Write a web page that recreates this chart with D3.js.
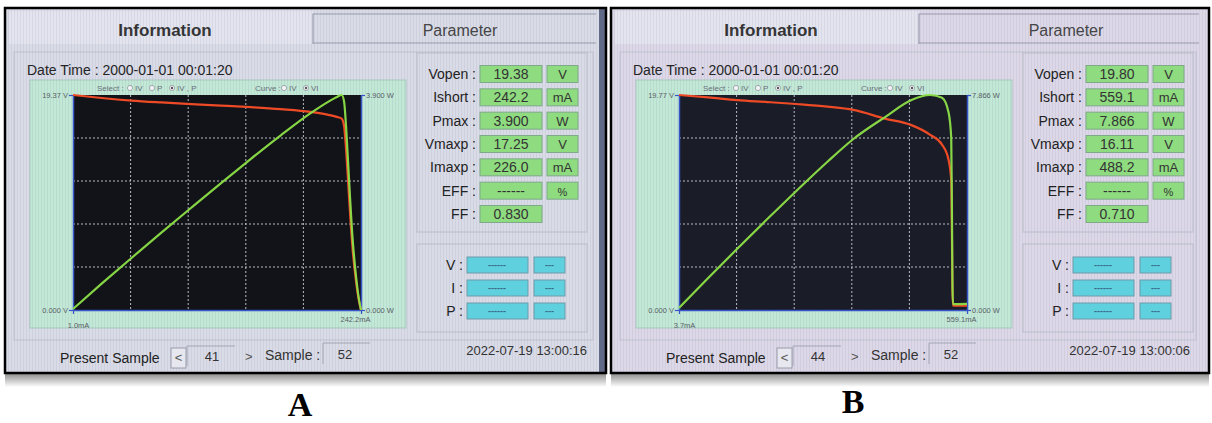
<!doctype html>
<html lang="en">
<head>
<meta charset="utf-8">
<title>I-V tester screens</title>
<style>
  body { margin: 0; background: #fff; }
  svg { display: block; font-family: "Liberation Sans", Arial, sans-serif; }
</style>
</head>
<body>
<div id="chart"></div>
<script src="https://d3js.org/d3.v7.min.js"></script>
<script>
// ---- screen A : readings ----
var currentA = [1.0, 25, 50, 75, 100, 125, 150, 175, 200, 215, 222, 226, 228, 230, 232, 235, 238, 240.5, 242.2];      // mA
var voltageA = [19.37, 19.10, 18.87, 18.70, 18.55, 18.42, 18.28, 18.10, 17.85, 17.58, 17.40, 17.25, 16.60, 14.00, 10.50, 5.70, 2.60, 0.80, 0.00];
var powerA   = [0.019, 0.478, 0.944, 1.403, 1.855, 2.303, 2.742, 3.168, 3.570, 3.780, 3.863, 3.900, 3.785, 3.220, 2.436, 1.340, 0.619, 0.192, 0.000];
var axisA    = [19.37, 3.900, 1.0, 242.2];   // V top, W top, I min, I max
var readoutA = ["19.38", "242.2", "3.900", "17.25", "226.0", "------", "0.830"];

// ---- screen B ----
var currentB = [3.7, 60, 116, 175, 230, 290, 340, 401, 452, 488.2, 511, 523.6, 528.7, 530, 531, 532, 545, 559.1];
var voltageB = [19.77, 19.55, 19.30, 19.12, 18.94, 18.70, 18.40, 17.60, 17.00, 16.11, 15.20, 13.80, 11.90, 7.00, 2.00, 0.40, 0.40, 0.40];
var powerB   = [0.073, 1.173, 2.239, 3.346, 4.356, 5.423, 6.256, 7.058, 7.684, 7.866, 7.767, 7.226, 6.292, 3.710, 1.062, 0.213, 0.218, 0.224];
var axisB    = [19.77, 7.866, 3.7, 559.1];
var readoutB = ["19.80", "559.1", "7.866", "16.11", "488.2", "------", "0.710"];

var readoutLabels = ["Vopen :", "Ishort :", "Pmax :", "Vmaxp :", "Imaxp :", "EFF :", "FF :"];
var readoutUnits  = ["V", "mA", "W", "V", "mA", "%", ""];
var probeLabels   = ["V :", "I :", "P :"];

var svg = d3.select("#chart").append("svg")
  .attr("width", 1212)
  .attr("height", 423);

var defs = svg.append("defs");
var stripes = defs.append("pattern")
  .attr("id", "stripes").attr("patternUnits", "userSpaceOnUse")
  .attr("width", 3).attr("height", 6);
stripes.append("rect").attr("width", 1).attr("height", 6).attr("fill", "rgba(110,110,150,0.10)");
var shade = defs.append("linearGradient").attr("id", "shade").attr("x1", 0).attr("x2", 0).attr("y1", 0).attr("y2", 1);
shade.append("stop").attr("offset", 0).attr("stop-color", "#8a8a8a");
shade.append("stop").attr("offset", 1).attr("stop-color", "#fff");

var screens = [
  {x: 5, w: 601, letter: "A", lx: 300, ly: 416, current: currentA, voltage: voltageA, power: powerA, axis: axisA,
   readout: readoutA, present: "41", stamp: "2022-07-19 13:00:16", bg: "#d9dbe6", plotBg: "#111318", edge: "#5f6a86"},
  {x: 611, w: 598, letter: "B", lx: 853, ly: 413, current: currentB, voltage: voltageB, power: powerB, axis: axisB,
   readout: readoutB, present: "44", stamp: "2022-07-19 13:00:06", bg: "#dcd8e7", plotBg: "#1a1d27", edge: null}
];

screens.forEach(drawScreen);

function drawScreen(s) {
  var g = svg.append("g").attr("transform", "translate(" + s.x + ",0)");

  // drop shadow under the photo
  g.append("rect").attr("x", 0).attr("y", 373).attr("width", s.w).attr("height", 14).attr("fill", "url(#shade)");

  g.append("rect").attr("x", 0).attr("y", 8).attr("width", s.w).attr("height", 365).attr("fill", s.bg);
  if (s.edge) g.append("rect").attr("x", s.w - 7).attr("y", 8).attr("width", 7).attr("height", 365).attr("fill", s.edge);

  // tabs
  g.append("rect").attr("x", 4).attr("y", 11).attr("width", 304).attr("height", 33).attr("fill", "#e3e4ee");
  g.append("path").attr("d", "M308,44 V14 H" + (s.w - 10) + " M308,43 H" + (s.w - 10))
    .attr("fill", "none").attr("stroke", "#9a9cae").attr("stroke-width", 1.2);
  g.append("text").attr("x", 160).attr("y", 36).attr("text-anchor", "middle")
    .attr("font-size", 17).attr("font-weight", "bold").attr("fill", "#333").text("Information");
  g.append("text").attr("x", 455).attr("y", 36).attr("text-anchor", "middle")
    .attr("font-size", 16).attr("fill", "#444").text("Parameter");

  // content frame
  g.append("rect").attr("x", 9).attr("y", 52).attr("width", s.w - 22).attr("height", 288)
    .attr("fill", "none").attr("stroke", "#c2c3cf");

  g.append("text").attr("x", 22).attr("y", 75).attr("font-size", 14).attr("fill", "#222")
    .text("Date Time : 2000-01-01 00:01:20");

  // chart area
  g.append("rect").attr("x", 25).attr("y", 80).attr("width", 376).attr("height", 248)
    .attr("fill", "#c2e8d6").attr("stroke", "#a9c9bf");
  g.append("rect").attr("x", 0).attr("y", 8).attr("width", s.w).attr("height", 365).attr("fill", "url(#stripes)");

  var px0 = 68, px1 = 356, py0 = 95, py1 = 310;
  var x = d3.scaleLinear().domain([s.axis[2], s.axis[3]]).range([px0, px1]);
  var yV = d3.scaleLinear().domain([0, s.axis[0]]).range([py1, py0]);
  var yP = d3.scaleLinear().domain([0, s.axis[1]]).range([py1, py0]);

  g.append("rect").attr("x", px0).attr("y", py0).attr("width", px1 - px0).attr("height", py1 - py0).attr("fill", s.plotBg);

  // 5 x 5 dashed grid
  var xGrid = d3.range(1, 5).map(function(k) { return s.axis[2] + k * (s.axis[3] - s.axis[2]) / 5; });
  var yGrid = d3.range(1, 5).map(function(k) { return k * s.axis[0] / 5; });
  g.append("g").selectAll("line").data(xGrid).enter().append("line")
    .attr("x1", x).attr("x2", x).attr("y1", py0).attr("y2", py1);
  g.append("g").selectAll("line").data(yGrid).enter().append("line")
    .attr("x1", px0).attr("x2", px1).attr("y1", yV).attr("y2", yV);
  g.selectAll("g line").attr("stroke", "#b9bcc4").attr("stroke-dasharray", "2,2").attr("stroke-width", 1);

  // axes
  var axisColor = "#3755c8";
  var left = g.append("g").attr("transform", "translate(" + px0 + ",0)")
    .call(d3.axisLeft(yV).tickValues([0, s.axis[0]]).tickSize(4).tickSizeOuter(0)
      .tickFormat(function(d) { return d === 0 ? "0.000 V" : d.toFixed(2) + " V"; }));
  var right = g.append("g").attr("transform", "translate(" + px1 + ",0)")
    .call(d3.axisRight(yP).tickValues([0, s.axis[1]]).tickSize(4).tickSizeOuter(0)
      .tickFormat(function(d) { return d === 0 ? "0.000 W" : d.toFixed(3) + " W"; }));
  var bottom = g.append("g").attr("transform", "translate(0," + py1 + ")")
    .call(d3.axisBottom(x).tickValues([s.axis[2], s.axis[3]]).tickSize(4).tickSizeOuter(0)
      .tickFormat(function(d) { return d.toFixed(1) + "mA"; }));
  [left, right, bottom].forEach(function(a) {
    a.select(".domain").attr("stroke", axisColor).attr("stroke-width", 1.5);
    a.selectAll(".tick line").attr("stroke", axisColor).attr("stroke-width", 1.2);
    a.selectAll("text").attr("fill", "#5a5f66").attr("font-size", 7.5).attr("font-family", "Liberation Sans, Arial");
  });
  left.selectAll("text").attr("x", -5);
  right.selectAll("text").attr("x", 5);
  bottom.selectAll(".tick text").attr("dy", function(d, i) { return i === 0 ? "1.45em" : "0.6em"; })
    .attr("dx", function(d, i) { return i === 0 ? 5 : -6; });

  // curves
  var lineV = d3.line().x(function(d) { return x(d[0]); }).y(function(d) { return yV(d[1]); }).curve(d3.curveMonotoneX);
  var lineP = d3.line().x(function(d) { return x(d[0]); }).y(function(d) { return yP(d[1]); }).curve(d3.curveMonotoneX);
  g.append("path").datum(d3.zip(s.current, s.voltage)).attr("d", lineV)
    .attr("fill", "none").attr("stroke", "#ee4a26").attr("stroke-width", 2.2);
  g.append("path").datum(d3.zip(s.current, s.power)).attr("d", lineP)
    .attr("fill", "none").attr("stroke", "#8ddf48").attr("stroke-width", 2.2).attr("stroke-opacity", 0.95);

  // select / curve radio row
  var radios = [
    {t: "Select :", x: 92, r: false, label: true},
    {t: "IV", x: 130, r: false}, {t: "P", x: 152, r: false}, {t: "IV , P", x: 172, r: true},
    {t: "Curve :", x: 250, r: false, label: true},
    {t: "IV", x: 284, r: false}, {t: "VI", x: 306, r: true}
  ];
  var rg = g.append("g").attr("font-size", 8).attr("fill", "#6a6f7a");
  radios.forEach(function(r) {
    if (r.label) {
      rg.append("text").attr("x", r.x).attr("y", 91).text(r.t);
      return;
    }
    rg.append("circle").attr("cx", r.x - 5).attr("cy", 88).attr("r", 2.6).attr("fill", "#f3f4f6").attr("stroke", "#8a8f99").attr("stroke-width", 0.7);
    if (r.r) rg.append("circle").attr("cx", r.x - 5).attr("cy", 88).attr("r", 1.2).attr("fill", "#555");
    rg.append("text").attr("x", r.x).attr("y", 91).text(r.t);
  });

  // readout box
  var ib = g.append("g");
  ib.append("rect").attr("x", 412).attr("y", 53).attr("width", 170).attr("height", 179)
    .attr("fill", "none").attr("stroke", "#babcc8");
  var rowY = d3.scaleLinear().domain([0, 6]).range([74, 214]);
  readoutLabels.forEach(function(lab, i) {
    var cy = rowY(i);
    ib.append("text").attr("x", 471).attr("y", cy + 5).attr("text-anchor", "end")
      .attr("font-size", 14).attr("fill", "#222").text(lab);
    ib.append("rect").attr("x", 475).attr("y", cy - 8.5).attr("width", 62).attr("height", 17)
      .attr("fill", "#8fdb80").attr("stroke", "#7fa98a").attr("stroke-width", 1);
    ib.append("text").attr("x", 506).attr("y", cy + 5).attr("text-anchor", "middle")
      .attr("font-size", 14).attr("fill", "#333").text(s.readout[i]);
    if (readoutUnits[i]) {
      ib.append("rect").attr("x", 542).attr("y", cy - 8.5).attr("width", 31).attr("height", 17)
        .attr("fill", "#8fdb80").attr("stroke", "#7fa98a").attr("stroke-width", 1);
      ib.append("text").attr("x", 557.5).attr("y", cy + 5).attr("text-anchor", "middle")
        .attr("font-size", i === 5 ? 11 : 13).attr("fill", "#333").text(readoutUnits[i]);
    }
  });

  // probe box
  ib.append("rect").attr("x", 412).attr("y", 244).attr("width", 170).attr("height", 88)
    .attr("fill", "none").attr("stroke", "#babcc8");
  var probeY = d3.scaleLinear().domain([0, 2]).range([265, 311]);
  probeLabels.forEach(function(lab, i) {
    var cy = probeY(i);
    ib.append("text").attr("x", 458).attr("y", cy + 5).attr("text-anchor", "end")
      .attr("font-size", 14).attr("fill", "#222").text(lab);
    ib.append("rect").attr("x", 462).attr("y", cy - 8).attr("width", 61).attr("height", 16)
      .attr("fill", "#5fd0de").attr("stroke", "#6f9aaa");
    ib.append("text").attr("x", 492).attr("y", cy + 3).attr("text-anchor", "middle")
      .attr("font-size", 9).attr("font-weight", "bold").attr("fill", "#3a6a88").text("------");
    ib.append("rect").attr("x", 529).attr("y", cy - 8).attr("width", 31).attr("height", 16)
      .attr("fill", "#5fd0de").attr("stroke", "#6f9aaa");
    ib.append("text").attr("x", 544.5).attr("y", cy + 3).attr("text-anchor", "middle")
      .attr("font-size", 9).attr("font-weight", "bold").attr("fill", "#3a6a88").text("---");
  });

  // bottom row
  var br = g.append("g");
  br.append("text").attr("x", 55).attr("y", 363).attr("font-size", 14).attr("fill", "#222").text("Present Sample");
  br.append("rect").attr("x", 166).attr("y", 348).attr("width", 15).attr("height", 20)
    .attr("fill", "#e6e7ef").attr("stroke", "#9a9cab");
  br.append("text").attr("x", 173.5).attr("y", 362).attr("text-anchor", "middle").attr("font-size", 13).attr("fill", "#555").text("<");
  br.append("path").attr("d", "M182,366 V346 H230").attr("fill", "none").attr("stroke", "#a3a5b4");
  br.append("text").attr("x", 207).attr("y", 361).attr("text-anchor", "middle").attr("font-size", 13).attr("fill", "#333").text(s.present);
  br.append("text").attr("x", 240).attr("y", 361).attr("font-size", 13).attr("fill", "#555").text(">");
  br.append("text").attr("x", 260).attr("y", 360).attr("font-size", 14).attr("fill", "#333").text("Sample :");
  br.append("path").attr("d", "M318,364 V343 H365").attr("fill", "none").attr("stroke", "#a3a5b4");
  br.append("text").attr("x", 340).attr("y", 359).attr("text-anchor", "middle").attr("font-size", 13).attr("fill", "#333").text("52");
  br.append("text").attr("x", s.w - 19).attr("y", 355).attr("text-anchor", "end").attr("font-size", 13).attr("fill", "#333").text(s.stamp);

  // photo frame
  g.append("rect").attr("x", 0).attr("y", 8).attr("width", s.w).attr("height", 365)
    .attr("fill", "none").attr("stroke", "#000").attr("stroke-width", 2.5);

  svg.append("text").attr("x", s.lx).attr("y", s.ly).attr("text-anchor", "middle")
    .attr("font-family", "Liberation Serif, Times New Roman, serif").attr("font-weight", "bold")
    .attr("font-size", 34).attr("fill", "#000").text(s.letter);
}
</script>
</body>
</html>
